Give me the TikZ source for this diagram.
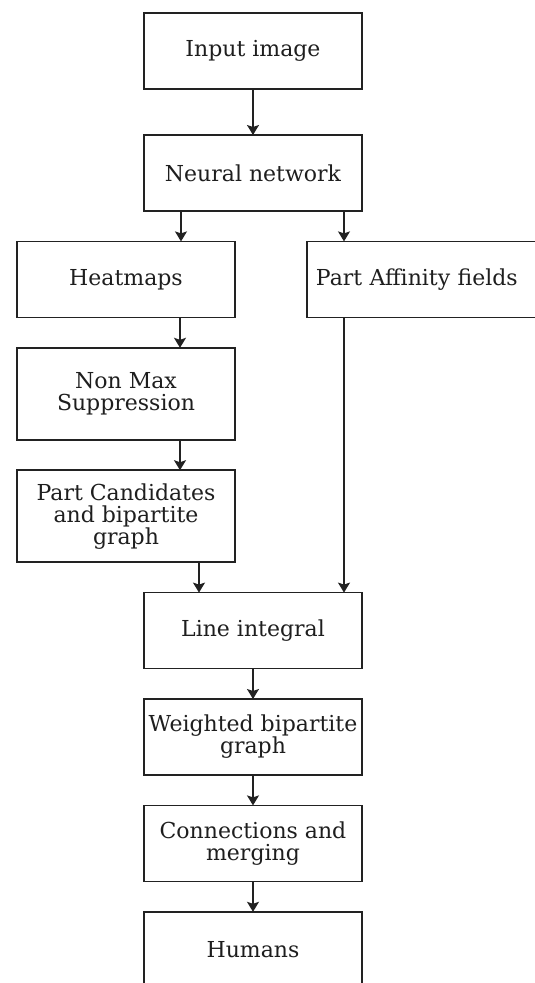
\documentclass[tikz,border=0pt]{standalone}
\usepackage{fontspec}
\setmainfont{DejaVu Serif}
\usepackage{tikz}
\usetikzlibrary{positioning, arrows.meta, calc}
\definecolor{boxline}{RGB}{34,34,34}
\definecolor{boxtext}{RGB}{30,30,30}

\begin{document}
\begin{tikzpicture}[font=\fontsize{16.5pt}{16.5pt}\selectfont, node distance=22.8pt,
box/.style={rectangle, draw=boxline, line width=1.1pt, text=boxtext, outer sep=0pt,
minimum width=163.5pt, minimum height=57pt, align=center, inner sep=2pt},
tallbox/.style={box, minimum height=69pt},
widebox/.style={box, minimum width=180pt, text width=166.5pt, inner xsep=6.75pt, align=left},
arrow/.style={->, line width=1.1pt, draw=boxline, >={Stealth[length=7.5pt, width=9pt, inset=1.5pt]}}
]

% Frame of the picture
\path[use as bounding box, clip] (-189.75pt,38.25pt) rectangle (211.5pt,-699pt);

% Input
\node[box] (input) at (0,0) {Input image};

% Network
\node[box, below=34.5pt of input] (nn) {Neural network};

% Two branches
\node[box, below=of nn, xshift=-95.25pt] (heat) {Heatmaps};
\node[widebox, below=of nn, anchor=north west, xshift=40.5pt] (paf) {Part Affinity fields};

% Left branch
\node[tallbox, below=of heat] (nms) {Non Max\\Suppression};
\node[tallbox, below=of nms] (cand) {Part Candidates\\and bipartite\\graph};

% Merge
\node[box, below=of cand, xshift=95.25pt] (line) {Line integral};
\node[box, below=of line] (weighted) {Weighted bipartite\\graph};
\node[box, below=of weighted] (conn) {Connections and\\merging};
\node[box, below=of conn] (humans) {Humans};

% Arrows
\draw[arrow] (input) -- (nn);
\draw[arrow] ([xshift=-54pt]nn.south) -- ([xshift=-54pt]nn.south |- heat.north);
\draw[arrow] ([xshift=68.25pt]nn.south) -- ([xshift=68.25pt]nn.south |- paf.north);
\draw[arrow] ([xshift=40.5pt]heat.south) -- ([xshift=40.5pt]heat.south |- nms.north);
\draw[arrow] ([xshift=40.5pt]nms.south) -- ([xshift=40.5pt]nms.south |- cand.north);
\draw[arrow] ([xshift=54.75pt]cand.south) -- ([xshift=54.75pt]cand.south |- line.north);
\draw[arrow] ([xshift=68.25pt]line.north |- paf.south) -- ([xshift=68.25pt]line.north);
\draw[arrow] (line) -- (weighted);
\draw[arrow] (weighted) -- (conn);
\draw[arrow] (conn) -- (humans);

\end{tikzpicture}
\end{document}
